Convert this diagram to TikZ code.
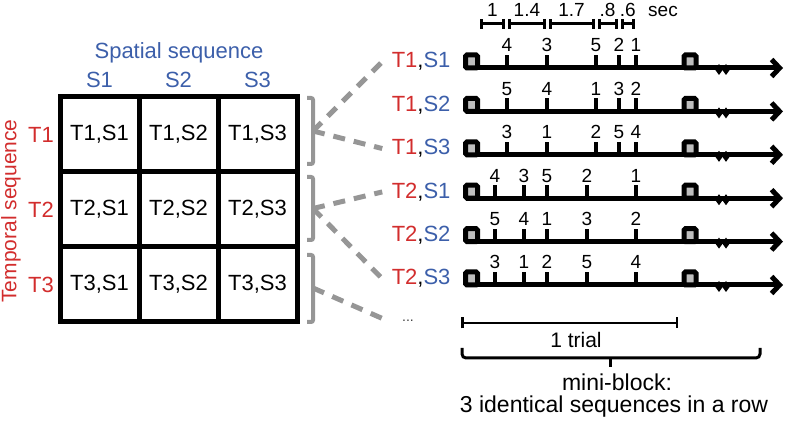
\documentclass[tikz,border=0pt]{standalone}
\usepackage{fontspec}
\setmainfont{Liberation Sans}
\usetikzlibrary{arrows.meta}
\definecolor{tred}{RGB}{210,45,45}
\definecolor{sblue}{RGB}{60,95,170}
\definecolor{bgray}{RGB}{150,150,150}
\definecolor{sqgray}{RGB}{190,190,190}

\begin{document}
\begin{tikzpicture}[x=1pt,y=-1pt,
    cell/.style={draw, line width=5pt, minimum width=79pt, minimum height=75pt, inner sep=0pt, font=\fontsize{22}{26}\selectfont},
    lab/.style={font=\fontsize{22}{26}\selectfont},
    num/.style={anchor=base, font=\fontsize{19}{21}\selectfont},
    tline/.style={line width=5pt, -{Straight Barb[length=8pt,width=17pt]}},
    tick/.style={line width=3.5pt},
    brack/.style={bgray, line width=4pt, rounded corners=2pt},
    conn/.style={bgray, line width=5pt, dash pattern=on 12pt off 9pt},
    scalebar/.style={line width=3pt, {Bar[width=10pt]}-{Bar[width=10pt]}}]
    \useasboundingbox (0,0) rectangle (788,422);

    % matrix of sequences
    \node[lab, sblue] (spat) at (179,53) {Spatial sequence};
    \node[lab, sblue] (s1) at (99.5,80) {S1};
    \node[lab, sblue] (s2) at (178.5,80) {S2};
    \node[lab, sblue] (s3) at (257.5,80) {S3};
    \node[lab, tred, rotate=90, inner sep=0pt, font=\fontsize{21}{24}\selectfont] (temp) at (11,211) {Temporal sequence};
    \node[lab, tred] (t1) at (41,134.5) {T1};
    \node[lab, tred] (t2) at (41,209.5) {T2};
    \node[lab, tred] (t3) at (41,284.5) {T3};
    \node[cell] (c11) at (99.5,134.5) {T1,S1};
    \node[cell] (c12) at (178.5,134.5) {T1,S2};
    \node[cell] (c13) at (257.5,134.5) {T1,S3};
    \node[cell] (c21) at (99.5,209.5) {T2,S1};
    \node[cell] (c22) at (178.5,209.5) {T2,S2};
    \node[cell] (c23) at (257.5,209.5) {T2,S3};
    \node[cell] (c31) at (99.5,284.5) {T3,S1};
    \node[cell] (c32) at (178.5,284.5) {T3,S2};
    \node[cell] (c33) at (257.5,284.5) {T3,S3};

    % brackets
    \draw[brack] (307,98) -- (313,98) -- (313,164) -- (307,164);
    \draw[brack] (307,177) -- (313,177) -- (313,240) -- (307,240);
    \draw[brack] (307,255) -- (313,255) -- (313,322) -- (307,322);
    \coordinate (br1) at (313,131);
    \coordinate (br2) at (313,208.5);
    \coordinate (br3) at (313,288);

    % sequence labels
    \node[lab, anchor=base east] (l1) at (454,68) {\textcolor{tred}{T1},\textcolor{sblue}{S1}};
    \node[lab, anchor=base east] (l2) at (454,111.4) {\textcolor{tred}{T1},\textcolor{sblue}{S2}};
    \node[lab, anchor=base east] (l3) at (454,154.8) {\textcolor{tred}{T1},\textcolor{sblue}{S3}};
    \node[lab, anchor=base east] (l4) at (454,198.2) {\textcolor{tred}{T2},\textcolor{sblue}{S1}};
    \node[lab, anchor=base east] (l5) at (454,241.6) {\textcolor{tred}{T2},\textcolor{sblue}{S2}};
    \node[lab, anchor=base east] (l6) at (454,285) {\textcolor{tred}{T2},\textcolor{sblue}{S3}};
    \node[anchor=base, darkgray, font=\fontsize{14}{16}\selectfont] (dots) at (408,322) {...};

    \draw[conn] (br1) -- ([xshift=-6pt]l1.west);
    \draw[conn] (br1) -- ([xshift=-6pt]l3.west);
    \draw[conn] (br2) -- ([xshift=-6pt]l4.west);
    \draw[conn] (br2) -- ([xshift=-6pt]l6.west);
    \draw[conn] (br3) -- ([xshift=-10pt]dots.west);

    % time lines
    \foreach \y in {68,111.4,154.8,198.2,241.6,285} {
        \draw[tline] (465.5,\y) -- (783,\y);
        \draw[line width=5pt, fill=sqgray, rounded corners=1.5pt] (465.5,\y-13) rectangle (477.5,\y);
        \draw[line width=5pt, fill=sqgray, rounded corners=1.5pt] (684,\y-13) rectangle (696,\y);
        \fill (715,\y+1.5) -- (719,\y-4) -- (723,\y+1.5) -- (719,\y+7) -- cycle;
        \fill (722,\y+1.5) -- (726,\y-4) -- (730,\y+1.5) -- (726,\y+7) -- cycle;
    }
    \foreach \x/\n in {507/4,547/3,596/5,619/2,636/1}
        \draw[tick] (\x,68) -- (\x,55) node[num] at (\x,52) {\n};
    \foreach \x/\n in {507/5,547/4,596/1,619/3,636/2}
        \draw[tick] (\x,111.4) -- (\x,98.4) node[num] at (\x,95.4) {\n};
    \foreach \x/\n in {507/3,547/1,596/2,619/5,636/4}
        \draw[tick] (\x,154.8) -- (\x,141.8) node[num] at (\x,138.8) {\n};
    \foreach \x/\n in {495/4,524/3,547/5,587/2,636/1}
        \draw[tick] (\x,198.2) -- (\x,185.2) node[num] at (\x,182.2) {\n};
    \foreach \x/\n in {495/5,524/4,547/1,587/3,636/2}
        \draw[tick] (\x,241.6) -- (\x,228.6) node[num] at (\x,225.6) {\n};
    \foreach \x/\n in {495/3,524/1,547/2,587/5,636/4}
        \draw[tick] (\x,285) -- (\x,272) node[num] at (\x,269) {\n};

    % interval scale
    \foreach \a/\b/\lbl in {478/506.8/1, 506.8/547.1/1.4, 547.1/596.1/1.7, 596.1/619.1/.8, 619.1/636.4/.6} {
        \draw[scalebar] (\a+1.5,24) -- (\b-1.5,24);
        \node[num] at ({(\a+\b)/2},17) {\lbl};
    }
    \node[num] (sec) at (663,17) {sec};

    % trial and mini-block
    \draw[line width=2.5pt, {Bar[width=11pt]}-{Bar[width=11pt]}] (461,323) -- (678,323);
    \node[lab, anchor=base, font=\fontsize{21}{24}\selectfont] (trial) at (576,348) {1 trial};
    \draw[line width=3pt, rounded corners=4pt] (462,348) -- (462,358) -- (760,358) -- (760,348);
    \draw[line width=3pt] (610,358) -- (610,367);
    \node[anchor=base, font=\fontsize{23}{27}\selectfont] (mb) at (617,390) {mini-block:};
    \node[anchor=base, font=\fontsize{23}{27}\selectfont] (mbtext) at (614,412) {3 identical sequences in a row};
\end{tikzpicture}
\end{document}
